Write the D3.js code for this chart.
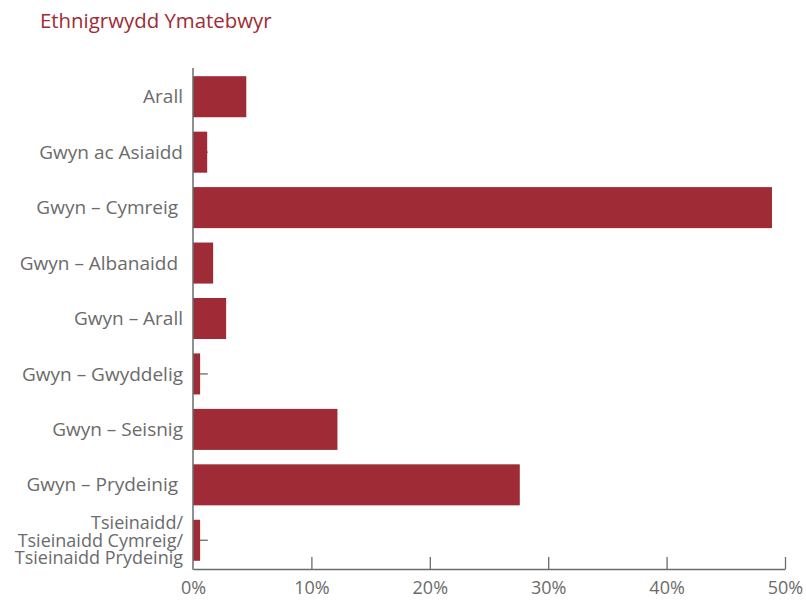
<!DOCTYPE html>
<html>
<head>
<meta charset="utf-8">
<script src="https://cdn.jsdelivr.net/npm/d3@7"></script>
<style>
  body { margin: 0; background: #fff; }
  svg text { font-family: "Open Sans", Lato, sans-serif; white-space: pre; }
</style>
</head>
<body>
<svg id="chart" width="806" height="603"></svg>
<script>
"use strict"

// data
const categories = [
    ["Arall"],
    ["Gwyn ac Asiaidd"],
    ["Gwyn \u2013 Cymreig "],
    ["Gwyn \u2013 Albanaidd "],
    ["Gwyn \u2013 Arall"],
    ["Gwyn \u2013 Gwyddelig"],
    ["Gwyn \u2013 Seisnig"],
    ["Gwyn \u2013 Prydeinig "],
    ["Tsieinaidd/", "Tsieinaidd Cymreig/", "Tsieinaidd Prydeinig"]
];
const values = [4.5, 1.2, 48.9, 1.7, 2.8, 0.6, 12.2, 27.6, 0.6];
const leaderEnd = [1.25, 1.25, 1.25, 1.25, 1.25, 1.25, 1.25, 1.25, 1.25];
const xTicks = [0, 10, 20, 30, 40, 50];

const red = "#9e2b35";
const grey = "#6b6b6b";

let svg = d3.select("#chart");
let ids = categories.map((c, i) => i);

let x = d3.scaleLinear().domain([0, 50]).range([193, 785]);
let y = d3.scaleBand().domain(ids).range([69, 568])
    .paddingInner(0.26).paddingOuter(0.13);

// title
svg.append("text")
    .attr("x", 40).attr("y", 28)
    .attr("fill", red)
    .attr("font-size", 20.4)
    .text("Ethnigrwydd Ymatebwyr");

// short leader lines behind the bars
svg.append("g").selectAll("line")
    .data(ids).enter().append("line")
    .attr("x1", x(0)).attr("x2", i => x(leaderEnd[i]))
    .attr("y1", i => y(i) + y.bandwidth() / 2)
    .attr("y2", i => y(i) + y.bandwidth() / 2)
    .attr("stroke", grey).attr("stroke-width", 1.3);

// bars
svg.append("g").selectAll("rect")
    .data(ids).enter().append("rect")
    .attr("x", x(0))
    .attr("y", i => y(i))
    .attr("width", i => x(values[i]) - x(0))
    .attr("height", y.bandwidth())
    .attr("fill", red);

// x axis
let xAxis = svg.append("g")
    .attr("transform", "translate(0,569)")
    .call(d3.axisBottom(x).tickValues(xTicks).tickSizeInner(-12).tickSizeOuter(0)
        .tickFormat(d => d + "%"));
xAxis.select(".domain").attr("stroke", grey).attr("stroke-width", 1.5);
xAxis.selectAll(".tick line").attr("stroke", grey).attr("stroke-width", 1.3)
    .filter(d => d === 0).remove();
xAxis.selectAll(".tick text")
    .attr("y", 12).attr("dy", "0.71em")
    .attr("fill", grey).attr("font-size", 18)
    .attr("font-family", "'Open Sans', Lato, sans-serif");

// y axis
svg.append("line")
    .attr("x1", 193).attr("x2", 193)
    .attr("y1", 68).attr("y2", 569.7)
    .attr("stroke", grey).attr("stroke-width", 1.5);

let labels = svg.append("g").selectAll("text")
    .data(ids).enter().append("text")
    .attr("text-anchor", "end")
    .attr("fill", grey)
    .attr("font-size", i => categories[i].length > 1 ? 18 : 19)
    .attr("transform", i => "translate(183," + (y(i) + y.bandwidth() / 2) + ")");

labels.each(function (i) {
    let lines = categories[i];
    let lh = 17.5;
    let t = d3.select(this);
    lines.forEach(function (s, k) {
        t.append("tspan")
            .attr("x", 0)
            .attr("y", (k - (lines.length - 1) / 2) * lh)
            .attr("dy", "0.35em")
            .text(s);
    });
});
</script>
</body>
</html>
